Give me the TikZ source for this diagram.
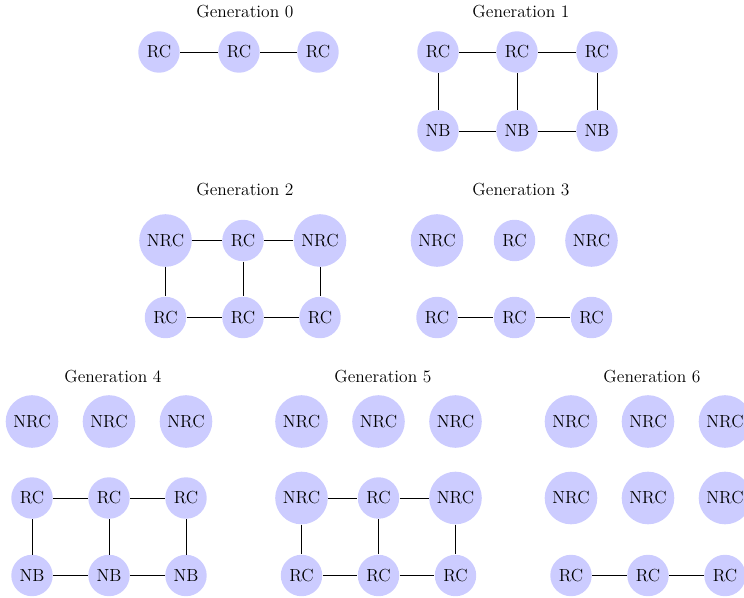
\documentclass[tikz,border=0pt]{standalone}
\begin{document}
\begin{tikzpicture}[x=0.71pt,y=-0.71pt,
  every node/.style={font=\fontsize{12.4}{14.5}\selectfont},
  cell/.style={circle,fill=blue!20,inner sep=3.62pt},
  title/.style={inner sep=0pt},
  link/.style={line width=0.6pt}]
\useasboundingbox (0,0) rectangle (744,597);
% Generation 0
\node[title] (t0) at (245,12) {Generation 0};
\node[cell] (a1) at (159,52) {RC};
\node[cell] (a2) at (239,52) {RC};
\node[cell] (a3) at (318,52) {RC};
\draw[link] (a1) -- (a2) (a2) -- (a3);
% Generation 1
\node[title] (t1) at (521,12) {Generation 1};
\node[cell] (b1) at (438,52) {RC};
\node[cell] (b2) at (517,52) {RC};
\node[cell] (b3) at (597,52) {RC};
\node[cell] (b4) at (438,131) {NB};
\node[cell] (b5) at (517,131) {NB};
\node[cell] (b6) at (597,131) {NB};
\draw[link] (b1) -- (b2) (b2) -- (b3) (b4) -- (b5) (b5) -- (b6)
  (b1) -- (b4) (b2) -- (b5) (b3) -- (b6);
% Generation 2
\node[title] (t2) at (245,190) {Generation 2};
\node[cell] (c1) at (165.5,240.5) {NRC};
\node[cell] (c2) at (243,240.5) {RC};
\node[cell] (c3) at (320,240.5) {NRC};
\node[cell] (c4) at (165.5,317.5) {RC};
\node[cell] (c5) at (243,317.5) {RC};
\node[cell] (c6) at (320,317.5) {RC};
\draw[link] (c1) -- (c2) (c2) -- (c3) (c4) -- (c5) (c5) -- (c6)
  (c1) -- (c4) (c2) -- (c5) (c3) -- (c6);
% Generation 3
\node[title] (t3) at (521,190) {Generation 3};
\node[cell] (d1) at (437,240.5) {NRC};
\node[cell] (d2) at (514.5,240.5) {RC};
\node[cell] (d3) at (591.5,240.5) {NRC};
\node[cell] (d4) at (437,317.5) {RC};
\node[cell] (d5) at (514.5,317.5) {RC};
\node[cell] (d6) at (591.5,317.5) {RC};
\draw[link] (d4) -- (d5) (d5) -- (d6);
% Generation 4
\node[title] (t4) at (113,377) {Generation 4};
\node[cell] (e1) at (32,421.5) {NRC};
\node[cell] (e2) at (109,421.5) {NRC};
\node[cell] (e3) at (186,421.5) {NRC};
\node[cell] (e4) at (32,498) {RC};
\node[cell] (e5) at (109,498) {RC};
\node[cell] (e6) at (186,498) {RC};
\node[cell] (e7) at (32,575.5) {NB};
\node[cell] (e8) at (109,575.5) {NB};
\node[cell] (e9) at (186,575.5) {NB};
\draw[link] (e4) -- (e5) (e5) -- (e6) (e7) -- (e8) (e8) -- (e9)
  (e4) -- (e7) (e5) -- (e8) (e6) -- (e9);
% Generation 5
\node[title] (t5) at (383,377) {Generation 5};
\node[cell] (f1) at (301.5,421.5) {NRC};
\node[cell] (f2) at (378.5,421.5) {NRC};
\node[cell] (f3) at (455.5,421.5) {NRC};
\node[cell] (f4) at (301.5,498) {NRC};
\node[cell] (f5) at (378.5,498) {RC};
\node[cell] (f6) at (455.5,498) {NRC};
\node[cell] (f7) at (301.5,575.5) {RC};
\node[cell] (f8) at (378.5,575.5) {RC};
\node[cell] (f9) at (455.5,575.5) {RC};
\draw[link] (f4) -- (f5) (f5) -- (f6) (f7) -- (f8) (f8) -- (f9)
  (f4) -- (f7) (f5) -- (f8) (f6) -- (f9);
% Generation 6
\node[title] (t6) at (652,377) {Generation 6};
\node[cell] (g1) at (571,421.5) {NRC};
\node[cell] (g2) at (648,421.5) {NRC};
\node[cell] (g3) at (725,421.5) {NRC};
\node[cell] (g4) at (571,498) {NRC};
\node[cell] (g5) at (648,498) {NRC};
\node[cell] (g6) at (725,498) {NRC};
\node[cell] (g7) at (571,575.5) {RC};
\node[cell] (g8) at (648,575.5) {RC};
\node[cell] (g9) at (725,575.5) {RC};
\draw[link] (g7) -- (g8) (g8) -- (g9);
\end{tikzpicture}
\end{document}
